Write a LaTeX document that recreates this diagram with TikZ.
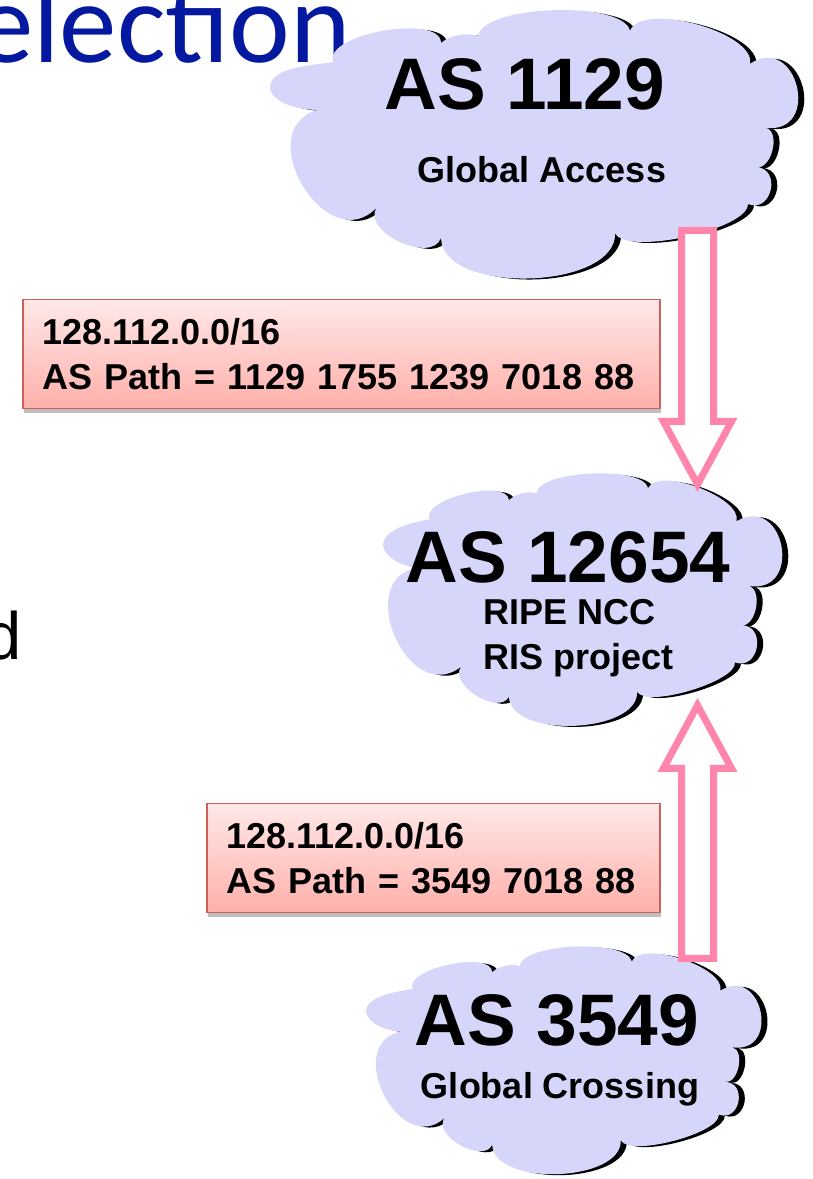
\documentclass[tikz,border=0pt]{standalone}
\usepackage{fontspec}
\setmainfont{Liberation Sans}
\newfontfamily\slidefont{Carlito}
\usetikzlibrary{calc}

\definecolor{titleblue}{RGB}{4,24,160}
\definecolor{cloudblue}{RGB}{214,214,251}
\definecolor{feedpink}{RGB}{255,133,170}
\definecolor{routetop}{RGB}{255,232,232}
\definecolor{routebottom}{RGB}{255,176,170}
\definecolor{routeline}{RGB}{205,96,90}

\tikzset{
  asnum/.style={font=\fontsize{73}{80}\selectfont\bfseries,inner sep=0pt,anchor=base},
  asname/.style={font=\fontsize{36}{40}\selectfont\bfseries,inner sep=0pt,anchor=base},
  route/.style={draw=routeline,line width=1.5pt,top color=routetop,bottom color=routebottom,
    minimum height=109pt,inner xsep=20pt,align=left,anchor=north west,
    font=\fontsize{36}{45}\selectfont\bfseries,
    preaction={fill=black,opacity=.25,transform canvas={shift={(1pt,-4pt)}}}},
  feed/.style={draw=feedpink,fill=white,line width=7pt,miter limit=10},
  pics/ascloud/.style 2 args={code={
    \fill[cloudblue,preaction={fill=black,transform canvas={shift={(6pt,-1pt)}}}]
      ({-.500*#1},{.209*#2}) to[out=90,in=190,looseness=.8] ({-.381*#1},{.306*#2})
      to[bend left=100,looseness=.7] ({-.178*#1},{.377*#2})
      to[bend left=30,looseness=.8] ({-.108*#1},{.403*#2})
      to[bend left=80,looseness=.53] ({.178*#1},{.422*#2})
      to[bend left=85,looseness=.66] ({.404*#1},{.299*#2})
      to[bend left=110,looseness=2.2] ({.434*#1},{.060*#2})
      to[bend left=90,looseness=1] ({.415*#1},{-.086*#2})
      to[bend left=100,looseness=1.77] ({.400*#1},{-.224*#2})
      to[bend left=80,looseness=.48] ({.150*#1},{-.332*#2})
      to[bend left=90,looseness=.84] ({-.178*#1},{-.351*#2})
      to[bend left=95,looseness=1] ({-.300*#1},{-.239*#2})
      to[bend left=105,looseness=1.6] ({-.410*#1},{.127*#2})
      to[out=180,in=-80,looseness=.8] ({-.500*#1},{.209*#2}) -- cycle;
  }}
}

\begin{document}
\begin{tikzpicture}[x=1pt,y=1pt]
  \path[use as bounding box,fill=white] (0,0) rectangle (812,1179);
  \node[anchor=base east,inner sep=0pt,text=titleblue,font=\slidefont\fontsize{115}{120}\selectfont] (title) at (351,1116) {election};
  \node[anchor=base west,inner sep=0pt,font=\fontsize{67}{70}\selectfont] (bullet) at (-16,519) {d};

  \pic at (535.5,1035) {ascloud={531}{268}};
  \pic at (578.5,577) {ascloud={391}{270}};
  \pic at (562,117.5) {ascloud={392}{237}};

  \node[asnum] (as1129) at (525,1069) {AS 1129};
  \node[asname] (access) at (542,996) {Global Access};
  \node[asnum] (as12654) at (568,596) {AS 12654};
  \node[asname,anchor=base west] (ripe) at (483,554) {RIPE NCC};
  \node[asname,anchor=base west] (ris) at (483,509) {RIS project};
  \node[asnum] (as3549) at (557,133) {AS 3549};
  \node[asname] (crossing) at (560,80) {Global Crossing};

  \node[route,text width=597pt] (route1) at (22,880) {128.112.0.0/16\\AS Path = 1129 1755 1239 7018 88};
  \node[route,text width=413pt] (route3549) at (206,376) {128.112.0.0/16\\AS Path = 3549 7018 88};

  \coordinate (down1) at (697.5,948.5);
  \coordinate (down2) at (697.5,694.5);
  \coordinate (up1) at (697.5,220.5);
  \coordinate (up2) at (697.5,473.7);
  \foreach \s/\e in {down1/down2,up1/up2}{
    \coordinate (hb) at ($(\e)!63pt!(\s)$);
    \draw[feed] ($(\s)!16pt!90:(\e)$) -- ($(hb)!16pt!-90:(\s)$) -- ($(hb)!34pt!-90:(\s)$) -- (\e)
      -- ($(hb)!34pt!90:(\s)$) -- ($(hb)!16pt!90:(\s)$) -- ($(\s)!16pt!-90:(\e)$) -- cycle;
  }
\end{tikzpicture}
\end{document}
